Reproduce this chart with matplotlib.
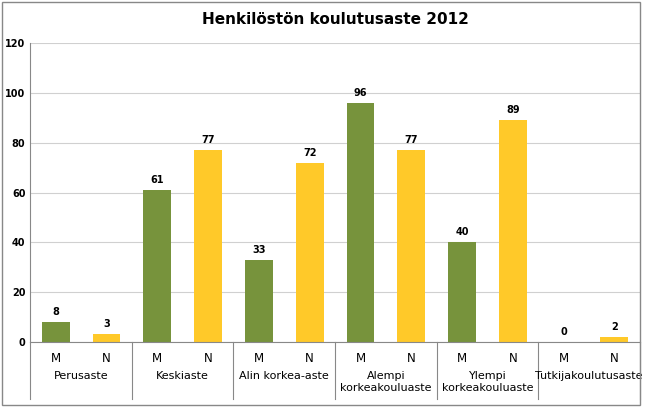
import matplotlib
matplotlib.use("Agg")
import matplotlib.pyplot as plt
from matplotlib.patches import Rectangle

groups = ["Perusaste", "Keskiaste", "Alin korkea-aste", "Alempi\nkorkeakouluaste", "Ylempi\nkorkeakouluaste", "Tutkijakoulutusaste"]
sub = ["M", "N"]
values_m = [8, 61, 33, 96, 40, 0]
values_n = [3, 77, 72, 77, 89, 2]
green = "#77933C"
yellow = "#FFC929"

fig = plt.figure(figsize=(6.45, 4.07), dpi=100)
fig.patches.append(Rectangle((0.003, 0.005), 0.99, 0.99, transform=fig.transFigure,
                             fill=False, edgecolor="#888888", lw=1))
ax = fig.add_axes([0.047, 0.160, 0.945, 0.734])
n = len(groups)
xs_m = [2 * i for i in range(n)]
xs_n = [2 * i + 1 for i in range(n)]
ax.bar(xs_m, values_m, width=0.55, color=green)
ax.bar(xs_n, values_n, width=0.55, color=yellow)
for x, v in zip(xs_m + xs_n, values_m + values_n):
    ax.text(x, v + 2, str(v), ha="center", va="bottom", fontsize=7, fontweight="bold")
ax.set_xlim(-0.5, 2 * n - 0.5)
ax.set_ylim(0, 120)
ax.set_yticks(range(0, 121, 20))
ax.tick_params(axis="y", labelsize=7, length=0)
for lab in ax.get_yticklabels():
    lab.set_fontweight("bold")
ax.grid(axis="y", color="#d0d0d0", lw=0.8)
ax.set_axisbelow(True)
for s in ["top", "right"]:
    ax.spines[s].set_visible(False)
ax.spines["bottom"].set_color("#888888")
ax.spines["left"].set_color("#888888")
ax.set_xticks([])
for x in xs_m + xs_n:
    ax.text(x, -4, sub[x % 2], ha="center", va="top", fontsize=8.5, transform=ax.transData)
for i, g in enumerate(groups):
    ax.text(2 * i + 0.5, -11.5, g, ha="center", va="top", fontsize=8, linespacing=1.3)
for i in range(n + 1):
    ax.plot([2 * i - 0.5] * 2, [0, -23], color="#888888", lw=0.8, clip_on=False)
ax.set_title("Henkilöstön koulutusaste 2012", fontsize=11, fontweight="bold", pad=14)
fig.savefig("out.png", dpi=100)
